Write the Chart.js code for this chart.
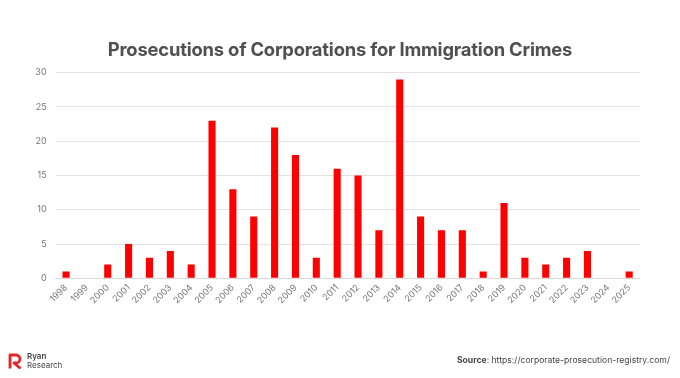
<!DOCTYPE html>
<html><head><meta charset="utf-8">
<script src="https://cdn.jsdelivr.net/npm/chart.js@4"></script>
<style>
html,body{margin:0;padding:0;background:#fff;}
#wrap{position:relative;width:680px;height:378px;overflow:hidden;font-family:Inter,"Noto Sans",sans-serif;}
#c{position:absolute;left:0;top:0;}
#title{position:absolute;left:0;width:680px;top:38px;text-align:center;font-weight:700;font-size:18.4px;color:#505050;letter-spacing:-0.2px;}
#logo{position:absolute;left:8px;top:353px;}
#brand{position:absolute;left:27px;top:352px;font-size:8px;line-height:8.6px;color:#444;}
#src{position:absolute;right:10px;top:355px;font-size:8.6px;color:#444;}
</style></head><body>
<div id="wrap">
<canvas id="c" width="680" height="378"></canvas>
<div id="title">Prosecutions of Corporations for Immigration Crimes</div>
<svg id="logo" width="15" height="16" viewBox="0 0 15 16"><path d="M2 15.5 V2 H8 A4 4 0 0 1 8 10 H6 L12.5 15.5" fill="none" stroke="#e5252a" stroke-width="2.8" stroke-linejoin="round"/></svg>
<div id="brand"><b style="font-weight:600">Ryan</b><br>Research</div>
<div id="src"><b>Source</b>: https://corporate-prosecution-registry.com/</div>
</div>
<script>
const years = ["1998","1999","2000","2001","2002","2003","2004","2005","2006","2007","2008","2009","2010","2011","2012","2013","2014","2015","2016","2017","2018","2019","2020","2021","2022","2023","2024","2025"];
const prosecutions = [1,0,2,5,3,4,2,23,13,9,22,18,3,16,15,7,29,9,7,7,1,11,3,2,3,4,0,1];
const yTicks = [0,5,10,15,20,25,30];

new Chart(document.getElementById('c'), {
  type: 'bar',
  data: { labels: years, datasets: [{ data: prosecutions, backgroundColor: '#ff0000', barPercentage: 0.34, categoryPercentage: 1 }] },
  options: {
    responsive: false, animation: false,
    layout: { padding: { left: 0, right: 40.4, top: 72.7, bottom: 50 } },
    plugins: { legend: { display: false }, tooltip: { enabled: false }, title: { display: false } },
    scales: {
      x: {
        grid: { display: false, drawTicks: false },
        border: { display: true, color: '#d9d9d9' },
        ticks: { color: '#777', font: { size: 9, family: 'Inter' }, maxRotation: 45, minRotation: 45, padding: 4, autoSkip: false },
        afterFit: s => { s.height = 49.7; }
      },
      y: {
        min: 0, max: 30,
        afterBuildTicks: s => { s.ticks = yTicks.map(v => ({ value: v })); },
        grid: { color: '#e3e3e3', drawTicks: false },
        border: { display: false },
        ticks: { color: '#777', font: { size: 9, family: 'Inter' }, padding: 9 },
        afterFit: s => { s.width = 55.6; }
      }
    }
  }
});
</script>
</body></html>
